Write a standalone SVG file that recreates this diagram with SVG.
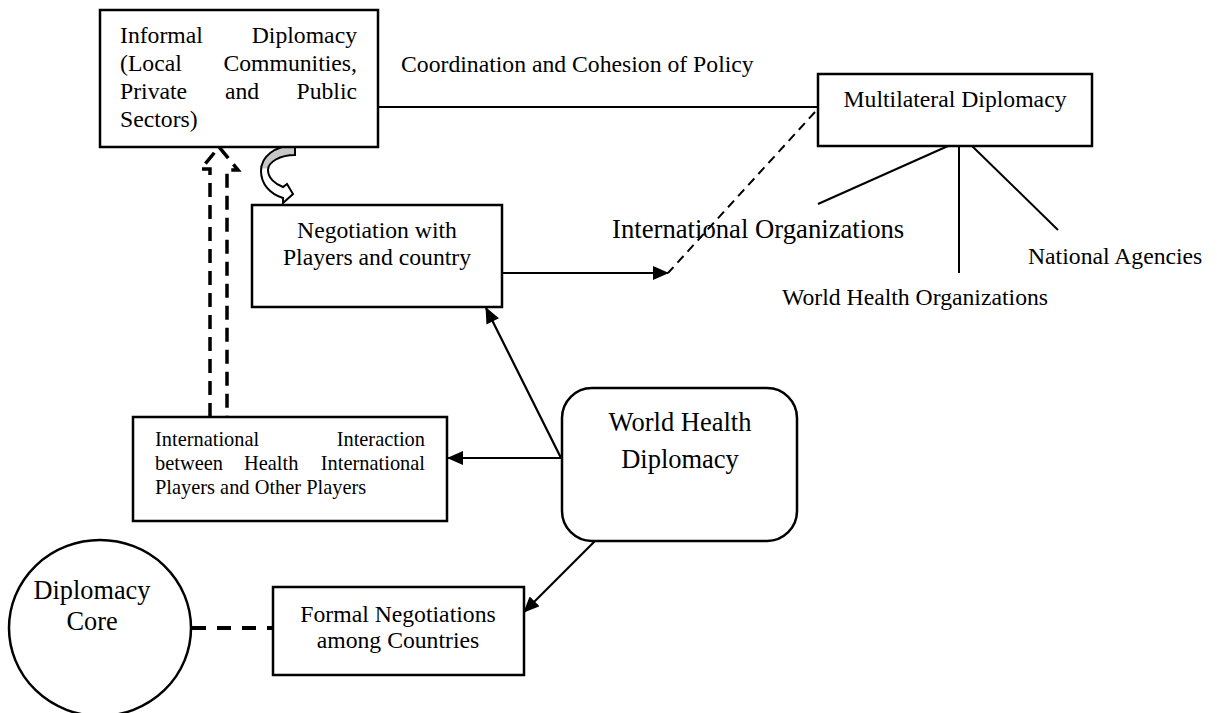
<svg xmlns="http://www.w3.org/2000/svg" width="1217" height="713" viewBox="0 0 1217 713">
<style>
.box{fill:#fff;stroke:#000;stroke-width:2.5}
.t{font-family:"Liberation Serif","Times New Roman",serif;fill:#000;font-size:23.7px}
.c{text-anchor:middle}
.e{text-anchor:end}
.ln{stroke:#000;stroke-width:2;fill:none}
.arr{stroke:#000;stroke-width:2.2;fill:none;marker-end:url(#ah)}
</style>
<defs>
<marker id="ah" markerUnits="userSpaceOnUse" markerWidth="16" markerHeight="14" refX="15" refY="7" orient="auto">
<path d="M0,0 L16,7 L0,14 Z" fill="#000"/>
</marker>
<linearGradient id="cg" gradientUnits="userSpaceOnUse" x1="0" y1="145" x2="0" y2="205">
<stop offset="0.38" stop-color="#c8c8c8"/>
<stop offset="0.40" stop-color="#fff"/>
</linearGradient>
</defs>
<rect width="1217" height="713" fill="#fff"/>

<g id="connectors">
<line class="ln" x1="378" y1="107" x2="818" y2="107"/>
<line class="ln" x1="815" y1="112" x2="668" y2="273" stroke-dasharray="9,6"/>
<line class="arr" x1="502" y1="273" x2="668" y2="273"/>
<line class="ln" x1="948" y1="146" x2="818" y2="204"/>
<line class="ln" x1="959" y1="146" x2="959" y2="273"/>
<line class="ln" x1="972" y1="146" x2="1058" y2="230"/>
<line class="arr" x1="561" y1="458" x2="486" y2="308"/>
<line class="arr" x1="561" y1="458" x2="448" y2="458"/>
<line class="arr" x1="595" y1="541" x2="524" y2="612"/>
<line x1="192" y1="628" x2="273" y2="628" stroke="#000" stroke-width="4" stroke-dasharray="14,11"/>
<path d="M 210 417 L 210 169 L 201 169 L 219 147 L 238 170 L 227 170 L 227 417" fill="none" stroke="#000" stroke-width="3.5" stroke-dasharray="14,8"/>
<path d="M 295 145 L 295 155 C 280 155 268 162 268 170 C 268 178 275 184 283 187 L 287 184 L 293 194 L 283 203 L 283 198 C 270 194 261 184 261 171 C 261 156 275 146 295 145 Z" fill="url(#cg)" stroke="#000" stroke-width="2"/>
</g>

<g id="informal">
<rect class="box" x="100" y="10" width="278" height="137"/>
<text class="t" x="120" y="43">Informal</text>
<text class="t e" x="357" y="43">Diplomacy</text>
<text class="t" x="120" y="71">(Local</text>
<text class="t e" x="357" y="71">Communities,</text>
<text class="t" x="120" y="99">Private</text>
<text class="t" x="225" y="99">and</text>
<text class="t e" x="357" y="99">Public</text>
<text class="t" x="120" y="127">Sectors)</text>
</g>

<g id="policy-label">
<text class="t" x="401" y="72">Coordination and Cohesion of Policy</text>
</g>

<g id="multilateral">
<rect class="box" x="818" y="74" width="274" height="72"/>
<text class="t c" x="955" y="107">Multilateral Diplomacy</text>
</g>

<g id="intl-org">
<text class="t" x="612" y="238" style="font-size:26.7px">International Organizations</text>
</g>
<g id="who">
<text class="t" x="782" y="305">World Health Organizations</text>
</g>
<g id="national">
<text class="t" x="1028" y="264">National Agencies</text>
</g>

<g id="negotiation">
<rect class="box" x="252" y="205" width="250" height="102"/>
<text class="t c" x="377" y="238">Negotiation with</text>
<text class="t c" x="377" y="265">Players and country</text>
</g>

<g id="interaction">
<rect class="box" x="133" y="417" width="314" height="104"/>
<text class="t" x="155" y="446" style="font-size:20.4px">International</text>
<text class="t e" x="425" y="446" style="font-size:20.4px">Interaction</text>
<text class="t" x="155" y="470" style="font-size:20.4px">between</text>
<text class="t" x="244" y="470" style="font-size:20.4px">Health</text>
<text class="t e" x="425" y="470" style="font-size:20.4px">International</text>
<text class="t" x="155" y="494" style="font-size:20.4px">Players and Other Players</text>
</g>

<g id="whd">
<rect class="box" x="562" y="388" width="235" height="153" rx="30" ry="30"/>
<text class="t c" x="680" y="431" style="font-size:26.5px">World Health</text>
<text class="t c" x="680" y="468" style="font-size:26.5px">Diplomacy</text>
</g>

<g id="formal">
<rect class="box" x="273" y="587" width="251" height="88"/>
<text class="t c" x="398" y="622">Formal Negotiations</text>
<text class="t c" x="398" y="648">among Countries</text>
</g>

<g id="core">
<ellipse cx="100" cy="628" rx="91" ry="88" fill="#fff" stroke="#000" stroke-width="2.5"/>
<text class="t c" x="92" y="599" style="font-size:26.3px">Diplomacy</text>
<text class="t c" x="92" y="630" style="font-size:26.3px">Core</text>
</g>
</svg>
